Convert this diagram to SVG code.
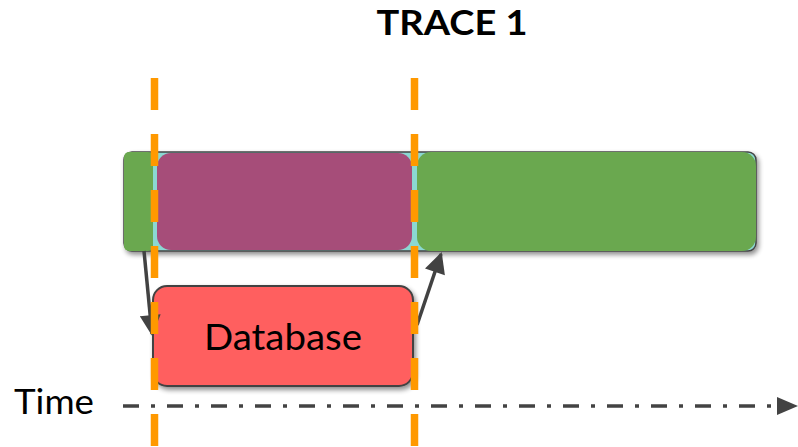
<svg xmlns="http://www.w3.org/2000/svg" width="798" height="447" viewBox="0 0 798 447">
  <style>
    .label { font-family: "Lato", "Liberation Sans", sans-serif; fill: #000; }
    .title { font-weight: 700; font-size: 34px; }
    .conn { stroke: #424242; stroke-width: 3.5; fill: none; }
    .marker { stroke: #ff9900; stroke-width: 7.5; stroke-dasharray: 32 24; fill: none; }
    .axis { stroke: #434343; stroke-width: 3.5; stroke-dasharray: 16 12 4 12; fill: none; }
  </style>
  <defs>
    <filter id="shadow" x="-10%" y="-20%" width="120%" height="150%">
      <feGaussianBlur in="SourceAlpha" stdDeviation="2.5"/>
      <feOffset dx="2" dy="3" result="blur"/>
      <feComponentTransfer><feFuncA type="linear" slope="0.45"/></feComponentTransfer>
      <feMerge><feMergeNode/><feMergeNode in="SourceGraphic"/></feMerge>
    </filter>
    <marker id="arrow" viewBox="0 0 10 10" refX="9" refY="5" markerWidth="6.5" markerHeight="6" orient="auto" markerUnits="strokeWidth">
      <path d="M0,0 L10,5 L0,10 Z" fill="#424242"/>
    </marker>
  </defs>

  <rect width="798" height="447" fill="#ffffff"/>

  <!-- title -->
  <text class="label title" x="452" y="35" text-anchor="middle" textLength="151" lengthAdjust="spacingAndGlyphs">TRACE 1</text>

  <!-- request span with its child spans -->
  <g id="trace-span" filter="url(#shadow)">
    <rect x="124" y="152" width="632" height="99" rx="8" fill="#8bd8d2" stroke="#444444" stroke-width="1.5"/>
    <rect x="124" y="152" width="29" height="99" rx="5" fill="#6aa84f"/>
    <rect x="157" y="153" width="255" height="97" rx="14" fill="#a64d79"/>
    <rect x="417" y="152" width="339" height="99" rx="14" fill="#6aa84f"/>
  </g>

  <!-- database call -->
  <g id="database">
    <rect x="153" y="286" width="260" height="100" rx="14" fill="#ff5e5e" stroke="#434343" stroke-width="2" filter="url(#shadow)"/>
    <text class="label" x="283" y="350" text-anchor="middle" font-size="36" textLength="158" lengthAdjust="spacingAndGlyphs">Database</text>
  </g>

  <!-- time axis -->
  <g id="time-axis">
    <text class="label" x="14" y="414" font-size="34" textLength="80" lengthAdjust="spacingAndGlyphs">Time</text>
    <line class="axis" x1="123" y1="406" x2="778" y2="406"/>
    <path d="M777,397 L798,406 L777,415 Z" fill="#434343"/>
  </g>

  <!-- connectors -->
  <g id="connectors">
    <line class="conn" x1="144" y1="251" x2="152" y2="334" marker-end="url(#arrow)"/>
    <line class="conn" x1="417" y1="325" x2="441" y2="254" marker-end="url(#arrow)"/>
  </g>

  <!-- timing boundaries -->
  <g id="boundaries">
    <line class="marker" x1="154.5" y1="78" x2="154.5" y2="447"/>
    <line class="marker" x1="414.5" y1="78" x2="414.5" y2="447"/>
  </g>
</svg>
